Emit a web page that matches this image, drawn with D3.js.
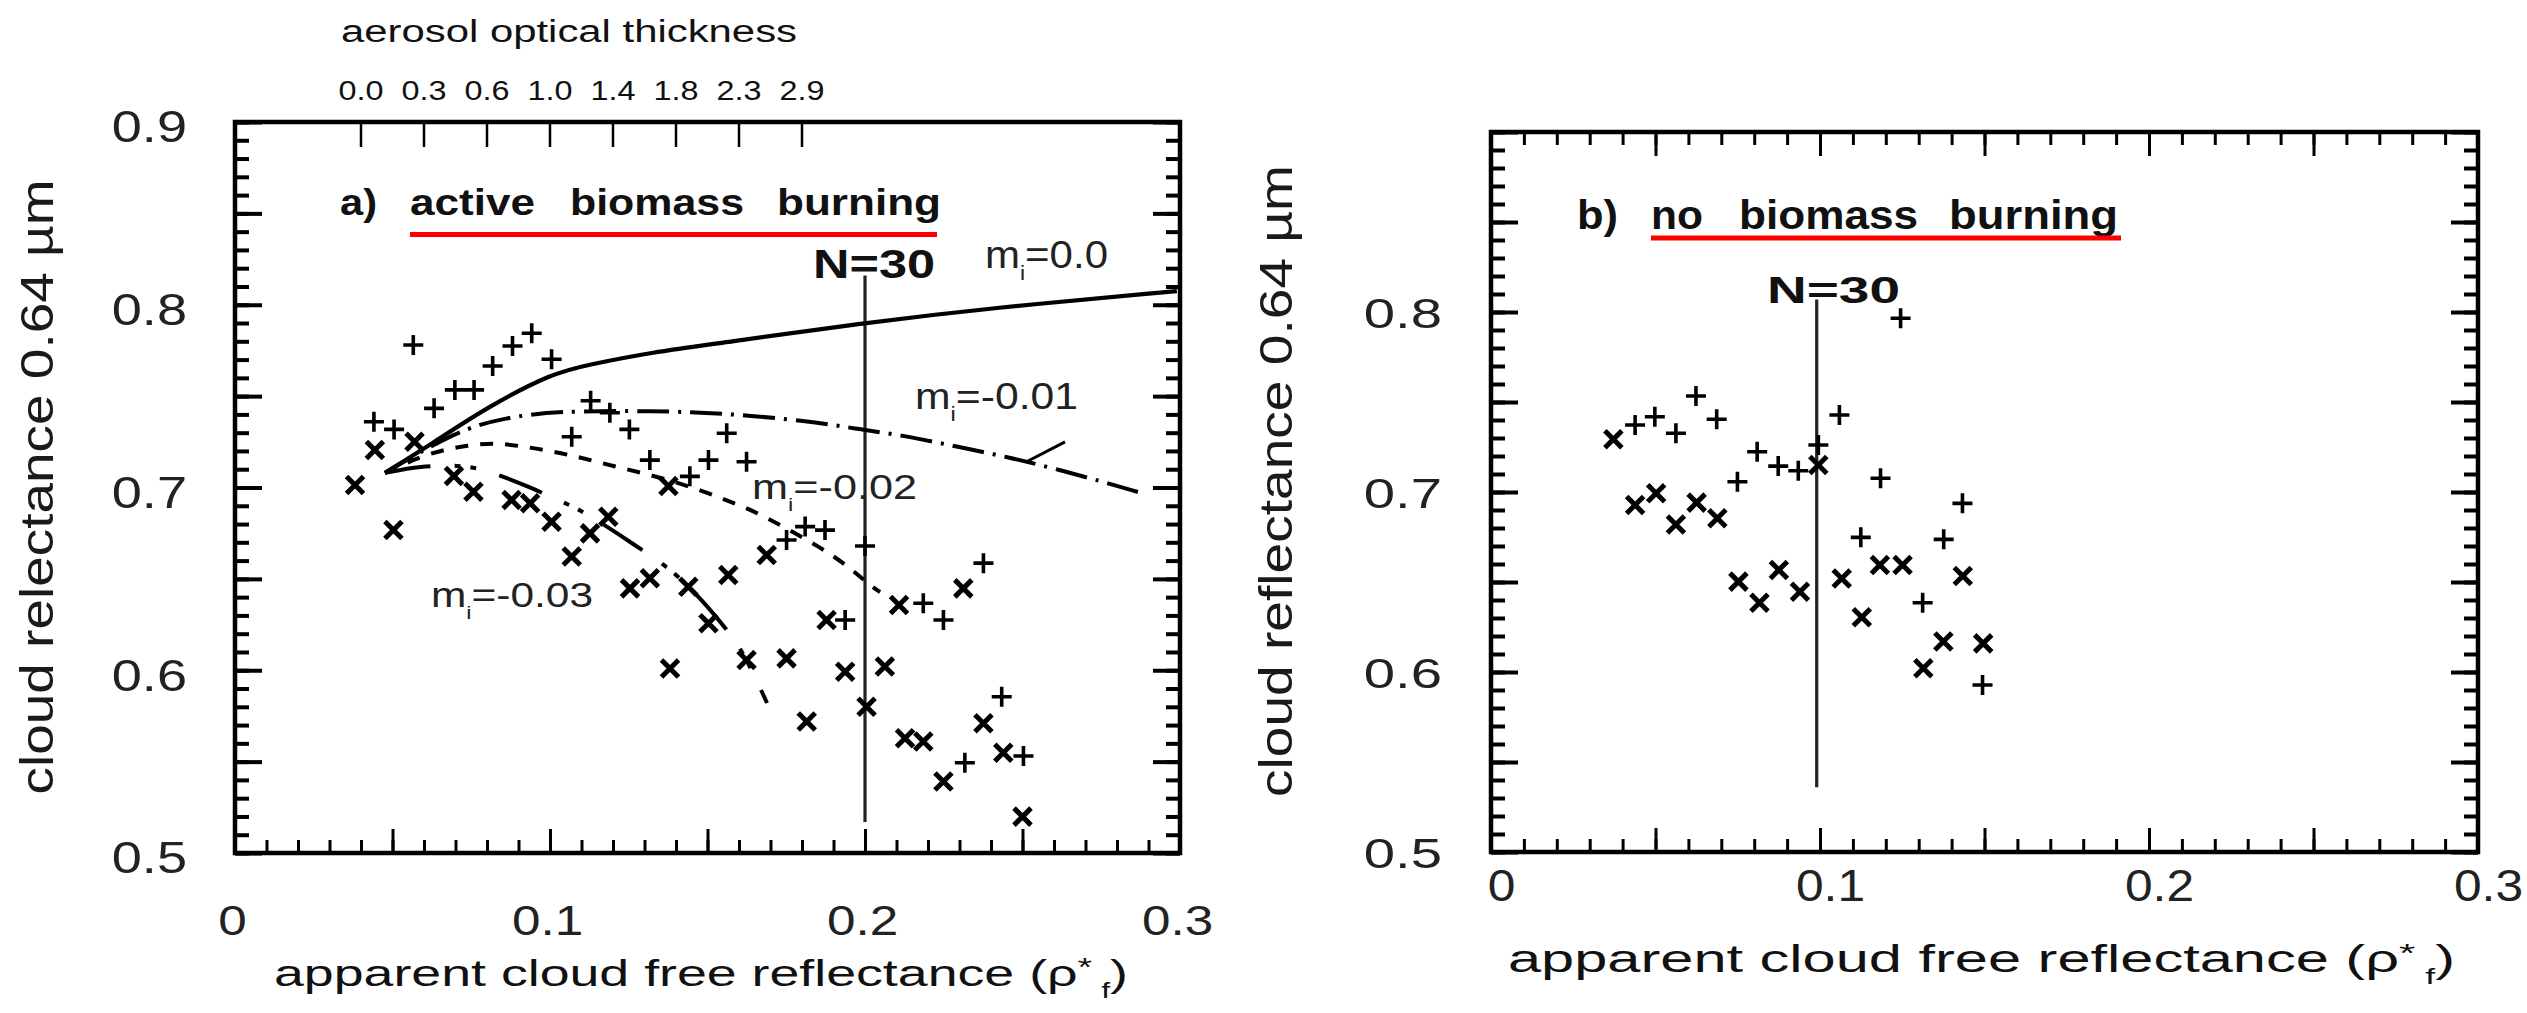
<!DOCTYPE html>
<html>
<head>
<meta charset="utf-8">
<script src="https://cdn.jsdelivr.net/npm/d3@7"></script>
<style>
  html, body { margin: 0; padding: 0; background: #fff; }
  svg { display: block; }
  text { font-family: "Liberation Sans", Arial, Helvetica, sans-serif; }
</style>
</head>
<body>
<svg id="chart" width="2527" height="1013"></svg>
<script>
// ---------- data ----------
const xTickValues = [0, 0.1, 0.2, 0.3];
const yTickValuesA = [0.5, 0.6, 0.7, 0.8, 0.9];
const yTickValuesB = [0.5, 0.6, 0.7, 0.8];

// aerosol optical thickness marks along the top of panel a
const aotTickPositions = [0.04, 0.06, 0.08, 0.10, 0.12, 0.14, 0.16, 0.18];
const aotTickLabels = ["0.0", "0.3", "0.6", "1.0", "1.4", "1.8", "2.3", "2.9"];

// panel a: active biomass burning
const plusA = [
  [0.0566, 0.778], [0.0942, 0.7844], [0.0881, 0.7774], [0.1005, 0.7702], [0.0818, 0.7665],
  [0.0698, 0.7534], [0.0759, 0.7534], [0.0632, 0.7433], [0.0441, 0.736], [0.0505, 0.7318],
  [0.1129, 0.7475], [0.119, 0.7409], [0.1252, 0.7318], [0.1069, 0.7278], [0.1317, 0.715],
  [0.1503, 0.715], [0.1444, 0.7061], [0.1561, 0.7297], [0.1624, 0.7141], [0.181, 0.6786],
  [0.1873, 0.6767], [0.1751, 0.6713], [0.2, 0.668], [0.2185, 0.6367], [0.2249, 0.6275],
  [0.1937, 0.6275], [0.2376, 0.6586], [0.2434, 0.5855], [0.2503, 0.5531], [0.2317, 0.5494]
];
const crossA = [
  [0.0381, 0.7014], [0.0444, 0.7205], [0.0503, 0.6767], [0.057, 0.725], [0.0695, 0.7063],
  [0.0757, 0.6977], [0.0878, 0.6932], [0.0937, 0.6914], [0.1005, 0.6813], [0.1127, 0.6749],
  [0.1185, 0.684], [0.1069, 0.6622], [0.1376, 0.7008], [0.1254, 0.6448], [0.1317, 0.6503],
  [0.1439, 0.6457], [0.1503, 0.6257], [0.1566, 0.6521], [0.1688, 0.6631], [0.1381, 0.601],
  [0.1624, 0.6056], [0.1751, 0.6065], [0.1878, 0.6275], [0.1937, 0.5992], [0.2063, 0.602],
  [0.2005, 0.58], [0.1815, 0.5719], [0.2108, 0.6357], [0.2312, 0.6448], [0.2376, 0.571],
  [0.2127, 0.5628], [0.2185, 0.561], [0.2439, 0.5549], [0.2249, 0.5391], [0.25, 0.5199]
];

// panel b: no biomass burning
const plusB = [
  [0.1245, 0.7965], [0.0623, 0.7533], [0.0686, 0.7404], [0.0498, 0.7418], [0.0438, 0.7372],
  [0.0562, 0.7326], [0.1059, 0.7428], [0.0995, 0.7261], [0.0809, 0.7224], [0.0873, 0.7144],
  [0.0934, 0.7118], [0.0749, 0.7057], [0.1184, 0.7076], [0.1433, 0.6937], [0.1124, 0.6748],
  [0.1376, 0.6737], [0.1312, 0.6385], [0.1494, 0.5928]
];
const crossB = [
  [0.0372, 0.7293], [0.0995, 0.715], [0.0438, 0.6928], [0.0502, 0.6993], [0.0562, 0.682],
  [0.0625, 0.6941], [0.0688, 0.6854], [0.0752, 0.6502], [0.0816, 0.6385], [0.0875, 0.6567],
  [0.0939, 0.6446], [0.1066, 0.652], [0.1182, 0.6594], [0.1251, 0.6594], [0.1434, 0.6533],
  [0.1127, 0.6304], [0.1375, 0.6169], [0.1496, 0.6159], [0.1314, 0.6021]
];

// model curves for imaginary refractive index m_i
const curveMi0 = [
  [0.0476, 0.708], [0.0629, 0.7244], [0.080, 0.744], [0.101, 0.7627], [0.1117, 0.767],
  [0.1327, 0.7741], [0.154, 0.779], [0.1984, 0.7898], [0.2397, 0.7982], [0.299, 0.8075]
];
const curveMi001 = [
  [0.0476, 0.708], [0.0708, 0.7315], [0.0854, 0.738], [0.1016, 0.7419], [0.1333, 0.7419],
  [0.154, 0.7408], [0.1825, 0.7364], [0.1975, 0.732], [0.2133, 0.7282], [0.2295, 0.7222],
  [0.2454, 0.7167], [0.2619, 0.7096], [0.279, 0.7014], [0.2867, 0.6975]
];
const curveMi002 = [
  [0.0476, 0.708], [0.0619, 0.7194], [0.0746, 0.7233], [0.0825, 0.7244], [0.0905, 0.7227],
  [0.0984, 0.7205], [0.1063, 0.7178], [0.114, 0.7145], [0.1225, 0.7107], [0.1308, 0.7074],
  [0.1451, 0.7003], [0.1549, 0.6937], [0.1625, 0.6888], [0.1708, 0.6817], [0.1863, 0.6669],
  [0.1949, 0.6565], [0.2022, 0.6456], [0.2048, 0.6428]
];
const curveMi003 = [
  [0.0476, 0.708], [0.0587, 0.7118], [0.0714, 0.7123], [0.080, 0.7096], [0.0943, 0.6997],
  [0.1032, 0.6926], [0.1083, 0.6888], [0.1149, 0.6822], [0.126, 0.6696], [0.1302, 0.6647],
  [0.1349, 0.6592], [0.1403, 0.6521], [0.1483, 0.6384], [0.1562, 0.622], [0.1594, 0.6149],
  [0.1641, 0.6001], [0.1689, 0.5821]
];
const mi001Stroke = [[0.2513, 0.7141], [0.2635, 0.725]];
const curveValues = ["0.0", "-0.01", "-0.02", "-0.03"];

// N = 30 sample markers
const sampleLineA = [[0.2, 0.517], [0.2, 0.816]];
const sampleLineB = [[0.099, 0.536], [0.099, 0.807]];
const sampleCount = 30;

// ---------- drawing ----------
const svg = d3.select("#chart");
svg.append("rect").attr("width", 2527).attr("height", 1013).attr("fill", "#fff");

const INK = "#111";

// stretch text horizontally to a target advance width
function fitText(sel, width) {
  sel.attr("textLength", width).attr("lengthAdjust", "spacingAndGlyphs");
  return sel;
}
function scaleText(sel, k) {
  sel.each(function () {
    const w = this.getComputedTextLength();
    d3.select(this).attr("textLength", w * k).attr("lengthAdjust", "spacingAndGlyphs");
  });
}

function tickAxis(g, gen, transform, values, size, width) {
  const ax = g.append("g").attr("transform", transform)
    .call(gen.tickValues(values).tickSize(size).tickFormat(""));
  ax.select(".domain").remove();
  ax.selectAll("line").attr("stroke", "#000").attr("stroke-width", width);
  return ax;
}

const minorX = d3.range(31).map(i => i / 100);
const majorX = d3.range(0, 31, 5).map(i => i / 100);
const minorY = d3.range(50, 91).map(i => i / 100);
const majorY = d3.range(50, 91, 5).map(i => i / 100);

function drawPanel(opts) {
  const g = svg.append("g");
  const x = d3.scaleLinear().domain([0, 0.3]).range([opts.left, opts.right]);
  const y = d3.scaleLinear().domain([0.5, 0.9]).range([opts.bottom, opts.top]);

  // inward ticks
  tickAxis(g, d3.axisBottom(x), `translate(0,${opts.bottom})`, minorX, -13, 3);
  tickAxis(g, d3.axisBottom(x), `translate(0,${opts.bottom})`, majorX, -24, 3);
  tickAxis(g, d3.axisLeft(y), `translate(${opts.left},0)`, minorY, -14, 4);
  tickAxis(g, d3.axisLeft(y), `translate(${opts.left},0)`, majorY, -27, 4);
  tickAxis(g, d3.axisRight(y), `translate(${opts.right},0)`, minorY, -14, 4);
  tickAxis(g, d3.axisRight(y), `translate(${opts.right},0)`, majorY, -27, 4);
  if (opts.topTicks) {
    tickAxis(g, d3.axisTop(x), `translate(0,${opts.top})`, minorX, -13, 3);
    tickAxis(g, d3.axisTop(x), `translate(0,${opts.top})`, majorX, -24, 3);
  }

  // frame
  g.append("rect")
    .attr("x", opts.left).attr("y", opts.top)
    .attr("width", opts.right - opts.left).attr("height", opts.bottom - opts.top)
    .attr("fill", "none").attr("stroke", "#000").attr("stroke-width", 4.5);

  // tick labels
  const xl = g.append("g").attr("transform", `translate(${opts.xLabelShift},${opts.bottom})`)
    .call(d3.axisBottom(x).tickValues(xTickValues).tickSize(0).tickPadding(opts.xPad)
      .tickFormat(d => d === 0 ? "0" : d3.format(".1f")(d)));
  xl.select(".domain").remove();
  xl.selectAll("text").attr("font-size", opts.xFont).attr("fill", "#222")
    .attr("font-family", "Liberation Sans, Arial, sans-serif");
  scaleText(xl.selectAll("text"), opts.xStretch);

  const yl = g.append("g").attr("transform", `translate(${opts.left},0)`)
    .call(d3.axisLeft(y).tickValues(opts.yTicks).tickSize(0).tickPadding(opts.yPad)
      .tickFormat(d3.format(".1f")));
  yl.select(".domain").remove();
  yl.selectAll("text").attr("font-size", opts.yFont).attr("fill", "#222").attr("dy", opts.yDy)
    .attr("font-family", "Liberation Sans, Arial, sans-serif");
  scaleText(yl.selectAll("text"), opts.yStretch);

  // axis titles
  const xt = g.append("text").attr("x", opts.xTitle.x).attr("y", opts.xTitle.y)
    .attr("font-size", opts.xTitle.size).attr("fill", INK);
  xt.append("tspan").text("apparent cloud free reflectance  (\u03C1");
  xt.append("tspan").attr("font-size", opts.xTitle.size * 0.7).attr("dy", -10).text("*");
  xt.append("tspan").attr("font-size", opts.xTitle.size * 0.6).attr("dy", 22).text(" f");
  xt.append("tspan").attr("dy", -12).text(")");
  fitText(xt, opts.xTitle.len);

  const yt = g.append("text")
    .attr("transform", `translate(${opts.yTitle.x},${opts.yTitle.y}) rotate(-90)`)
    .attr("text-anchor", "middle").attr("font-size", opts.yTitle.size)
    .attr("fill", "#1a1a1a").text(opts.yTitle.text);
  fitText(yt, opts.yTitle.len);

  // panel heading
  g.append("text").attr("x", opts.head.x).attr("y", opts.head.y)
    .attr("font-size", opts.head.size).attr("font-weight", "bold").attr("fill", INK)
    .text(opts.head.tag).call(fitText, opts.head.tagLen);
  opts.head.words.forEach(w => {
    g.append("text").attr("x", w.x).attr("y", opts.head.y)
      .attr("font-size", opts.head.size).attr("font-weight", "bold").attr("fill", INK)
      .text(w.t).call(fitText, w.len);
  });
  g.append("line")
    .attr("x1", opts.head.ul[0]).attr("x2", opts.head.ul[1])
    .attr("y1", opts.head.ul[2]).attr("y2", opts.head.ul[2])
    .attr("stroke", "#ff0000").attr("stroke-width", 5);

  // N = 30 marker line and label
  g.append("line")
    .attr("x1", x(opts.sample[0][0])).attr("x2", x(opts.sample[1][0]))
    .attr("y1", y(opts.sample[0][1])).attr("y2", y(opts.sample[1][1]))
    .attr("stroke", "#222").attr("stroke-width", 3.2);
  g.append("text").attr("x", opts.nLabel.x).attr("y", opts.nLabel.y)
    .attr("font-size", opts.nLabel.size).attr("font-weight", "bold").attr("fill", INK)
    .text(`N=${sampleCount}`).call(fitText, opts.nLabel.len);

  // observations
  const plusR = 10, crossR = 8.5;
  g.append("g").selectAll("path").data(opts.plus).join("path")
    .attr("d", d => {
      const px = x(d[0]), py = y(d[1]);
      return `M${px - plusR},${py}H${px + plusR}M${px},${py - plusR}V${py + plusR}`;
    })
    .attr("stroke", "#000").attr("stroke-width", 3.6).attr("fill", "none");
  g.append("g").selectAll("path").data(opts.cross).join("path")
    .attr("d", d => {
      const px = x(d[0]), py = y(d[1]);
      return `M${px - crossR},${py - crossR}L${px + crossR},${py + crossR}` +
             `M${px - crossR},${py + crossR}L${px + crossR},${py - crossR}`;
    })
    .attr("stroke", "#000").attr("stroke-width", 5).attr("fill", "none");

  return { g, x, y };
}

// ---------- panel a ----------
const A = drawPanel({
  left: 235, right: 1180, top: 122, bottom: 853, topTicks: false,
  yTicks: yTickValuesA,
  xLabelShift: -3, xPad: 52, xFont: 42, xStretch: 1.22,
  yPad: 48, yFont: 44, yDy: "0.45em", yStretch: 1.23,
  xTitle: { x: 274, y: 986, size: 36, len: 854 },
  yTitle: { x: 53, y: 487, size: 46, len: 615, text: "cloud  relectance  0.64  \u00B5m" },
  head: {
    x: 340, y: 215, size: 37, tag: "a)", tagLen: 37,
    words: [{ t: "active", x: 410, len: 125 }, { t: "biomass", x: 570, len: 174 }, { t: "burning", x: 777, len: 164 }],
    ul: [410, 937, 234.5]
  },
  sample: sampleLineA,
  nLabel: { x: 813, y: 278, size: 41, len: 122 },
  plus: plusA, cross: crossA
});

// top axis: aerosol optical thickness
{
  const { g, x } = A;
  const top = 122;
  g.append("g").selectAll("line").data(aotTickPositions).join("line")
    .attr("x1", d => x(d)).attr("x2", d => x(d))
    .attr("y1", top).attr("y2", top + 25)
    .attr("stroke", "#000").attr("stroke-width", 2.5);
  g.append("g").selectAll("text").data(aotTickLabels).join("text")
    .attr("x", (d, i) => x(aotTickPositions[i]))
    .attr("y", 100).attr("text-anchor", "middle")
    .attr("font-size", 28).attr("fill", INK)
    .text(d => d).call(fitText, 45);
  g.append("text").attr("x", 569).attr("y", 42).attr("text-anchor", "middle")
    .attr("font-size", 31).attr("fill", INK)
    .text("aerosol optical thickness").call(fitText, 456);
}

// model curves
{
  const { g, x, y } = A;
  const line = d3.line().x(d => x(d[0])).y(d => y(d[1])).curve(d3.curveBasis);
  const styles = [
    { data: curveMi0, dash: null, w: 4.2 },
    { data: curveMi001, dash: "32,9,3,9", w: 4 },
    { data: curveMi002, dash: "13,12", w: 4 },
    { data: curveMi003, dash: "46,24,6,10,6,24", w: 4 }
  ];
  styles.forEach(s => {
    g.append("path").attr("d", line(s.data)).attr("fill", "none")
      .attr("stroke", "#000").attr("stroke-width", s.w)
      .attr("stroke-dasharray", s.dash);
  });
  g.append("path").attr("d", d3.line().x(d => x(d[0])).y(d => y(d[1]))(mi001Stroke))
    .attr("stroke", "#000").attr("stroke-width", 3).attr("fill", "none");

  // curve labels
  const labelPos = [
    { x: 985, y: 268, size: 38, len: 123 },
    { x: 915, y: 409, size: 37, len: 163 },
    { x: 752, y: 499, size: 35, len: 165 },
    { x: 431, y: 607, size: 35, len: 162 }
  ];
  curveValues.forEach((v, i) => {
    const p = labelPos[i];
    const t = g.append("text").attr("x", p.x).attr("y", p.y)
      .attr("font-size", p.size).attr("fill", "#222");
    t.append("tspan").text("m");
    t.append("tspan").attr("font-size", p.size * 0.55).attr("dy", 12).text("i");
    t.append("tspan").attr("dy", -12).text("=" + v);
    fitText(t, p.len);
  });
}

// ---------- panel b ----------
drawPanel({
  left: 1491, right: 2478, top: 132, bottom: 852, topTicks: true,
  yTicks: yTickValuesB,
  xLabelShift: 10, xPad: 18, xFont: 44, xStretch: 1.13,
  yPad: 49, yFont: 42, yDy: "0.36em", yStretch: 1.34,
  xTitle: { x: 1508, y: 972, size: 38, len: 947 },
  yTitle: { x: 1292, y: 481, size: 46, len: 632, text: "cloud  reflectance  0.64  \u00B5m" },
  head: {
    x: 1577, y: 229, size: 40, tag: "b)", tagLen: 41,
    words: [{ t: "no", x: 1651, len: 52 }, { t: "biomass", x: 1739, len: 179 }, { t: "burning", x: 1949, len: 169 }],
    ul: [1651, 2121, 238]
  },
  sample: sampleLineB,
  nLabel: { x: 1767, y: 303, size: 36, len: 133 },
  plus: plusB, cross: crossB
});
</script>
</body>
</html>
